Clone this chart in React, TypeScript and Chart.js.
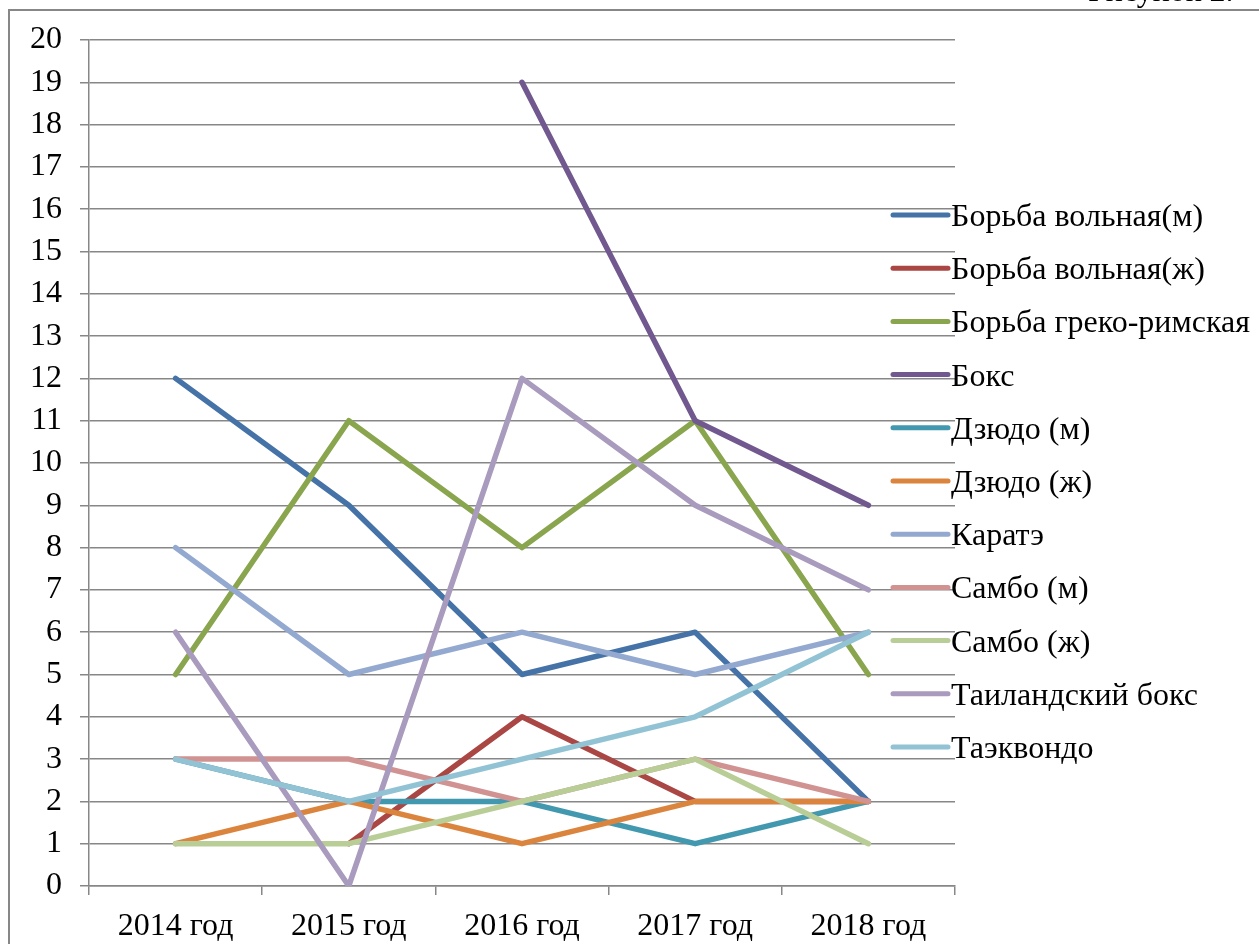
import React, { useEffect, useRef } from "react";
import { Chart, registerables } from "chart.js";

Chart.register(...registerables);

const categories = ["2014 год", "2015 год", "2016 год", "2017 год", "2018 год"];
const seriesNames = [
  "Борьба вольная(м)",
  "Борьба вольная(ж)",
  "Борьба греко-римская",
  "Бокс",
  "Дзюдо (м)",
  "Дзюдо (ж)",
  "Каратэ",
  "Самбо (м)",
  "Самбо (ж)",
  "Таиландский бокс",
  "Таэквондо",
];
const borbaM = [12, 9, 5, 6, 2];
const borbaZh = [null, 1, 4, 2, 2];
const grekoRim = [5, 11, 8, 11, 5];
const boks = [null, null, 19, 11, 9];
const dzyudoM = [3, 2, 2, 1, 2];
const dzyudoZh = [1, 2, 1, 2, 2];
const karate = [8, 5, 6, 5, 6];
const samboM = [3, 3, 2, 3, 2];
const samboZh = [1, 1, 2, 3, 1];
const taiBoks = [6, 0, 12, 9, 7];
const taekwondo = [3, 2, 3, 4, 6];
const seriesValues = [borbaM, borbaZh, grekoRim, boks, dzyudoM, dzyudoZh, karate, samboM, samboZh, taiBoks, taekwondo];
const colors = [
  "#4572A7",
  "#AA4643",
  "#89A54E",
  "#71588F",
  "#4198AF",
  "#DB843D",
  "#93A9CF",
  "#D19392",
  "#B9CD96",
  "#A99BBD",
  "#92C3D4",
];
const yTicks = { min: 0, max: 20, step: 1 };
const caption = "Рисунок 2.";

const FONT = "'Liberation Serif', 'Times New Roman', serif";
const GRID = "#878787";

export default function App() {
  const ref = useRef<HTMLCanvasElement | null>(null);
  useEffect(() => {
    if (!ref.current) return;
    const framePlugin = {
      id: "frame",
      beforeDraw(chart: any) {
        const ctx = chart.ctx;
        ctx.save();
        ctx.fillStyle = "#fff";
        ctx.fillRect(0, 0, chart.width, chart.height);
        ctx.strokeStyle = GRID;
        ctx.lineWidth = 2;
        ctx.strokeRect(9, 10, 1400, 1100);
        ctx.fillStyle = "#000";
        ctx.font = `32px ${FONT}`;
        ctx.textAlign = "left";
        ctx.textBaseline = "alphabetic";
        ctx.fillText(caption, 1088, 1);
        ctx.restore();
      },
      afterDraw(chart: any) {
        const ctx = chart.ctx;
        ctx.save();
        const x0 = 893;
        const x1 = 948;
        const yStart = 215;
        const gap = 53.2;
        chart.data.datasets.forEach((ds: any, i: number) => {
          const y = yStart + i * gap;
          ctx.strokeStyle = ds.borderColor;
          ctx.lineWidth = 5;
          ctx.lineCap = "round";
          ctx.beginPath();
          ctx.moveTo(x0, y);
          ctx.lineTo(x1, y);
          ctx.stroke();
          ctx.fillStyle = "#000";
          ctx.font = `32px ${FONT}`;
          ctx.textAlign = "left";
          ctx.textBaseline = "alphabetic";
          ctx.fillText(ds.label, 951, y + 11);
        });
        ctx.restore();
      },
    };
    const chart = new Chart(ref.current, {
      type: "line",
      data: {
        labels: categories,
        datasets: seriesNames.map((name, i) => ({
          label: name,
          data: seriesValues[i],
          borderColor: colors[i],
          backgroundColor: colors[i],
          borderWidth: 5.5,
          borderCapStyle: "round",
          borderJoinStyle: "round",
          pointRadius: 0,
          fill: false,
          tension: 0,
          order: seriesNames.length - i,
        })),
      },
      options: {
        animation: false,
        responsive: false,
        maintainAspectRatio: false,
        layout: { padding: { top: 40, right: 304, left: 0, bottom: 0 } },
        plugins: { legend: { display: false }, tooltip: { enabled: false } },
        scales: {
          x: {
            offset: true,
            grid: {
              offset: true,
              drawOnChartArea: false,
              drawTicks: true,
              tickLength: 9,
              color: GRID,
              lineWidth: 1.5,
            },
            border: { display: true, color: GRID, width: 1.5 },
            ticks: { color: "#000", font: { family: FONT, size: 32 }, padding: 12, maxRotation: 0, autoSkip: false },
            afterFit(scale: any) {
              scale.height = 58;
            },
          },
          y: {
            min: yTicks.min,
            max: yTicks.max,
            ticks: { stepSize: yTicks.step, color: "#000", font: { family: FONT, size: 32 }, padding: 18, autoSkip: false },
            grid: { color: GRID, lineWidth: 1.5, tickLength: 9, drawTicks: true },
            border: { display: true, color: GRID, width: 1.5 },
            afterFit(scale: any) {
              scale.width = 89;
            },
          },
        },
      },
      plugins: [framePlugin],
    });
    return () => chart.destroy();
  }, []);
  return (
    <div style={{ position: "fixed", left: 0, top: 0, width: 1259, height: 944 }}>
      <canvas ref={ref} width={1259} height={944} style={{ width: 1259, height: 944, display: "block" }} />
    </div>
  );
}
